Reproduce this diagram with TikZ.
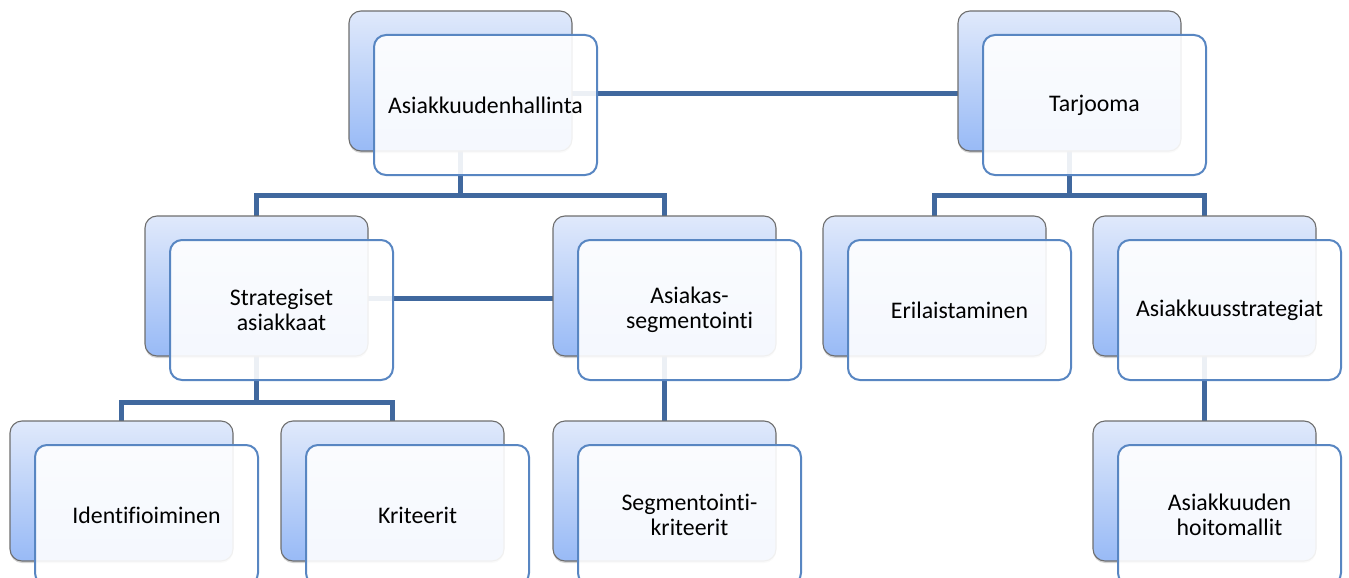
\documentclass[tikz,border=0pt]{standalone}
\usepackage{fontspec}
\setmainfont[Ligatures=NoCommon]{Carlito}
\usetikzlibrary{calc,shadows}
\pgfdeclarelayer{bg}
\pgfsetlayers{bg,main}
\definecolor{conncol}{RGB}{64,104,158}
\definecolor{backtop}{RGB}{224,233,251}
\definecolor{backbot}{RGB}{152,186,246}
\definecolor{backline}{RGB}{110,110,110}
\definecolor{frontline}{RGB}{88,134,194}
\tikzset{
  backbox/.style={draw=backline, line width=1.1pt, rounded corners=12pt,
    top color=backtop, bottom color=backbot,
    minimum width=223pt, minimum height=140pt, inner sep=0pt, outer sep=0pt,
    drop shadow={shadow xshift=0pt, shadow yshift=-2pt, opacity=0.35}},
  frontbox/.style={draw=frontline, line width=2pt, rounded corners=12pt,
    fill=white, fill opacity=0.9, text opacity=1,
    minimum width=223pt, minimum height=140pt, inner sep=0pt, outer sep=0pt,
    align=center, font=\fontsize{23.8}{25.5}\selectfont},
  conn/.style={draw=conncol, line width=5pt}
}
\newcommand{\pairbox}[4]{%
  \node[backbox, anchor=north west] (#1b) at (#2,#3) {};
  \node[frontbox, anchor=north west] (#1f) at (#2+25,#3+24) {#4};
  \coordinate (#1m) at ($(#1b.center)!0.5!(#1f.center)$);
}
\begin{document}
\begin{tikzpicture}[x=1pt,y=-1pt]
\useasboundingbox (0,0) rectangle (1349,578);
\pairbox{H}{349}{11}{Asiakkuudenhallinta}
\pairbox{T}{958}{11}{Tarjooma}
\pairbox{S}{145}{216}{Strategiset\\asiakkaat}
\pairbox{A}{553}{216}{Asiakas-\\segmentointi}
\pairbox{E}{823}{216}{Erilaistaminen}
\pairbox{K}{1093}{216}{Asiakkuusstrategiat}
\pairbox{I}{10}{421}{Identifioiminen}
\pairbox{R}{281}{421}{Kriteerit}
\pairbox{G}{553}{421}{Segmentointi-\\kriteerit}
\pairbox{M}{1093}{421}{Asiakkuuden\\hoitomallit}
\begin{pgfonlayer}{bg}
  \path (Sb.north) ++(0,-21) coordinate (barH);
  \path (Eb.north) ++(0,-21) coordinate (barT);
  \path (Ib.north) ++(0,-19) coordinate (barS);
  \draw[conn] (Hm) -- (Tm);
  \draw[conn] (Sm) -- (Am);
  \draw[conn] (Hb.center) -- (Hb.center |- barH);
  \draw[conn] (Sb.center) |- (barH) -| (Ab.center);
  \draw[conn] (Tb.center) -- (Tb.center |- barT);
  \draw[conn] (Eb.center) |- (barT) -| (Kb.center);
  \draw[conn] (Sb.center) -- (Sb.center |- barS);
  \draw[conn] (Ib.center) |- (barS) -| (Rb.center);
  \draw[conn] (Ab.center) -- (Gb.center);
  \draw[conn] (Kb.center) -- (Mb.center);
\end{pgfonlayer}
\end{tikzpicture}
\end{document}
